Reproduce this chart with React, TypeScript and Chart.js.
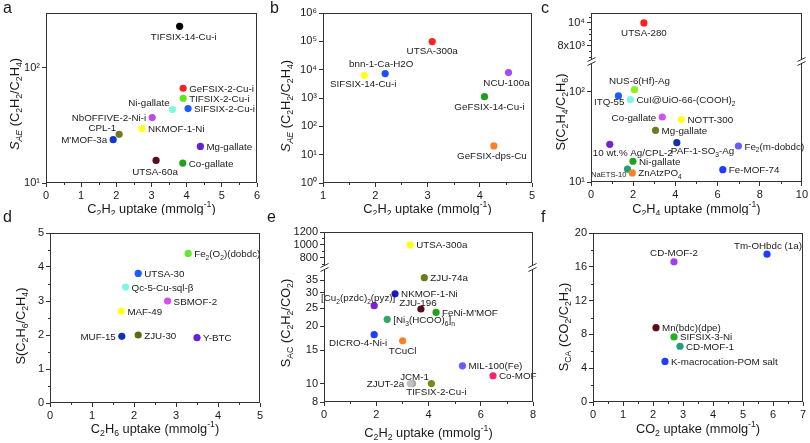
import React, { useEffect, useRef } from "react";
import { Chart, registerables } from "chart.js";

Chart.register(...registerables);

const FONT = "Arial, 'Liberation Sans', Helvetica, sans-serif";
const TXT = "#1a1a1a";
const LINE = "#333333";
const LABEL_SIZE = 9.8;
const TITLE_SIZE = 12.8;

type Place = [number, number, "l" | "r" | "c", number?];
const R: Place = [6, 0, "l"];
const L: Place = [-6, 0, "r"];

// ---------------- Panel a ----------------
const aNames = ["TIFSIX-14-Cu-i", "GeFSIX-2-Cu-i", "TIFSIX-2-Cu-i", "Ni-gallate", "SIFSIX-2-Cu-i", "NbOFFIVE-2-Ni-i", "NKMOF-1-Ni", "CPL-1", "M'MOF-3a", "Mg-gallate", "UTSA-60a", "Co-gallate"];
const aUptake = [3.8, 3.9, 3.9, 3.6, 4.04, 3.02, 2.73, 2.08, 1.91, 4.39, 3.13, 3.89];
const aSel = [230, 66.6, 54.5, 43.5, 44.3, 37, 29.7, 26.5, 23.8, 20.8, 15.7, 14.9];
const aColors = ["#000000", "#ff1f1f", "#5ee619", "#80f5e0", "#1f5cff", "#b94ce8", "#ffff1a", "#6b7d1f", "#1438c8", "#6a1fd6", "#5a0d1a", "#1fa31f"];
const aPlace: Place[] = [[4, 10, "c"], R, R, [-3, -7, "r"], R, L, R, [-3, -7, "r"], L, R, [-1, 11, "c"], R];
const aXTicks = [0, 1, 2, 3, 4, 5, 6];
const aYTicks = [10, 100];
const aYTickLabels = ["10¹", "10²"];

// ---------------- Panel b ----------------
const bNames = ["UTSA-300a", "bnn-1-Ca-H2O", "SIFSIX-14-Cu-i", "NCU-100a", "GeFSIX-14-Cu-i", "GeFSIX-dps-Cu"];
const bUptake = [3.09, 2.19, 1.79, 4.55, 4.09, 4.27];
const bSel = [98000, 7250, 6320, 7900, 1110, 20.4];
const bColors = ["#ff1f1f", "#1f4dff", "#ffff1a", "#a64df0", "#1f9e1f", "#ff7f27"];
const bPlace: Place[] = [[0, 9, "c"], [-4, -10, "c"], [-1, 8, "c"], [-2, 10, "c"], [5, 10, "c"], [-2, 10, "c"]];
const bXTicks = [1, 2, 3, 4, 5];
const bYTicks = [1, 10, 100, 1000, 10000, 100000, 1000000];
const bYTickLabels = ["10⁰", "10¹", "10²", "10³", "10⁴", "10⁵", "10⁶"];

// ---------------- Panel c ----------------
const cTopNames = ["UTSA-280"];
const cTopUptake = [2.51];
const cTopSel = [10000];
const cTopColors = ["#ff1f1f"];
const cTopPlace: Place[] = [[0, 10, "c"]];
const cNames = ["NUS-6(Hf)-Ag", "ITQ-55", "CuI@UiO-66-(COOH)_{2}", "Co-gallate", "NOTT-300", "Mg-gallate", "10 wt.% Ag/CPL-2", "PAF-1-SO_{3}-Ag", "Fe_{2}(m-dobdc)", "Ni-gallate", "NaETS-10", "ZnAtzPO_{4}", "Fe-MOF-74"];
const cUptake = [2.06, 1.3, 1.87, 3.38, 4.29, 3.06, 0.89, 4.07, 6.99, 1.99, 1.73, 1.96, 6.25];
const cSel = [106, 90.3, 82.2, 52.7, 49.3, 37.5, 26.2, 27.3, 25.1, 17.0, 13.9, 12.6, 13.7];
const cColors = ["#8cf21f", "#1f5cff", "#80f5e6", "#cc55f0", "#ffff1a", "#6b7d1f", "#7a1fd6", "#1430a8", "#6a5cff", "#1fa31f", "#1fa078", "#ff7f27", "#1f3cff"];
const cPlace: Place[] = [[5, -9, "c"], [6, 6, "r"], R, L, R, R, [-17, 8, "l"], [-6, 8, "l"], R, R, [-1, 5, "r", 7.6], R, R];
const cXTicks = [0, 2, 4, 6, 8, 10];
const cTopTicks = [8000, 10000];
const cTopTickLabels = ["8x10³", "10⁴"];
const cBotTicks = [10, 100];
const cBotTickLabels = ["10¹", "10²"];

// ---------------- Panel d ----------------
const dNames = ["Fe_{2}(O_{2})(dobdc)", "UTSA-30", "Qc-5-Cu-sql-β", "SBMOF-2", "MAF-49", "MUF-15", "ZJU-30", "Y-BTC"];
const dUptake = [3.29, 2.1, 1.8, 2.8, 1.7, 1.71, 2.1, 3.5];
const dSel = [4.4, 3.81, 3.41, 3.0, 2.7, 1.96, 2.0, 1.92];
const dColors = ["#66e633", "#1f5cff", "#80f5e6", "#d94cf0", "#ffff1a", "#1430b8", "#5c6b0f", "#6a1fd6"];
const dPlace: Place[] = [R, R, R, R, R, L, R, R];
const dXTicks = [0, 1, 2, 3, 4, 5];
const dYTicks = [0, 1, 2, 3, 4, 5];

// ---------------- Panel e ----------------
const eTopNames = ["UTSA-300a"];
const eTopUptake = [3.3];
const eTopSel = [1000];
const eTopColors = ["#ffff1a"];
const eTopPlace: Place[] = [R];
const eNames = ["ZJU-74a", "NKMOF-1-Ni", "[Cu_{2}(pzdc)_{2}(pyz)]", "ZJU-196", "FeNi-M'MOF", "[Ni_{3}(HCOO)_{6}]_{n}", "DICRO-4-Ni-i", "TCuCl", "MIL-100(Fe)", "Co-MOF", "JCM-1", "ZJUT-2a", "TIFSIX-2-Cu-i"];
const eUptake = [3.84, 2.72, 1.92, 3.71, 4.29, 2.42, 1.92, 3.01, 5.3, 6.47, 3.39, 3.3, 4.11];
const eSel = [36.1, 29.7, 25.7, 24.7, 23.7, 21.8, 18.1, 16.8, 12.4, 11.0, 10, 10, 10];
const eColors = ["#6b7d1f", "#1a1acc", "#7a1fd6", "#5a0d1a", "#1fa31f", "#2eaa66", "#1f3cff", "#ff7f27", "#6a5cff", "#ff1f6b", "#a6a6a6", "#c0c0c0", "#7a8a14"];
const ePlace: Place[] = [R, R, [-16, -8, "c"], [-3, -7, "c"], R, R, [-16, 8, "c"], [0, 10, "c"], R, R, [2, -7, "c"], L, [5, 8, "c"]];
const eXTicks = [0, 2, 4, 6, 8];
const eTopTicks = [800, 1000, 1200];
const eBotTicks = [8, 10, 15, 20, 25, 30, 35];

// ---------------- Panel f ----------------
const fNames = ["Tm-OHbdc (1a)", "CD-MOF-2", "Mn(bdc)(dpe)", "SIFSIX-3-Ni", "CD-MOF-1", "K-macrocation-POM salt"];
const fUptake = [5.8, 2.7, 2.1, 2.7, 2.9, 2.4];
const fSel = [17.5, 16.6, 8.8, 7.7, 6.6, 4.8];
const fColors = ["#1f3cff", "#9c3ff0", "#5a0d1a", "#1fb31f", "#1fa078", "#1f3cff"];
const fPlace: Place[] = [[1, -9, "c"], [0, -9, "c"], R, R, R, R];
const fXTicks = [0, 1, 2, 3, 4, 5, 6, 7];
const fYTicks = [0, 4, 8, 12, 16, 20];

// ---------------- rich text ----------------
type Seg = { t: string; sub: boolean; sup: boolean; it: boolean };
function parseRich(s: string, st = { sub: false, sup: false, it: false }, out: Seg[] = []): Seg[] {
  let i = 0;
  let buf = "";
  const flush = () => {
    if (buf) {
      out.push({ t: buf, ...st });
      buf = "";
    }
  };
  while (i < s.length) {
    const c = s[i];
    if ((c === "_" || c === "^" || c === "~") && s[i + 1] === "{") {
      flush();
      let depth = 0;
      let j = i + 1;
      for (; j < s.length; j++) {
        if (s[j] === "{") depth++;
        else if (s[j] === "}") {
          depth--;
          if (depth === 0) break;
        }
      }
      const ns = { ...st };
      if (c === "_") ns.sub = true;
      else if (c === "^") ns.sup = true;
      else ns.it = true;
      parseRich(s.slice(i + 2, j), ns, out);
      i = j + 1;
    } else {
      buf += c;
      i++;
    }
  }
  flush();
  return out;
}
function segFont(seg: Seg, size: number) {
  const fs = seg.sub || seg.sup ? size * 0.68 : size;
  return `${seg.it ? "italic " : ""}${fs}px ${FONT}`;
}
function drawRich(ctx: CanvasRenderingContext2D, text: string, x: number, y: number, size: number, align: "l" | "r" | "c") {
  const segs = parseRich(text);
  let w = 0;
  for (const s of segs) {
    ctx.font = segFont(s, size);
    w += ctx.measureText(s.t).width;
  }
  let cx = align === "l" ? x : align === "r" ? x - w : x - w / 2;
  const base = y + size * 0.36;
  ctx.textAlign = "left";
  ctx.textBaseline = "alphabetic";
  ctx.fillStyle = TXT;
  for (const s of segs) {
    ctx.font = segFont(s, size);
    const dy = s.sub ? size * 0.28 : s.sup ? -size * 0.42 : 0;
    ctx.fillText(s.t, cx, base + dy);
    cx += ctx.measureText(s.t).width;
  }
}

// ---------------- panel config ----------------
type YAxisCfg = { id: string; type: "linear" | "logarithmic"; min: number; max: number; ticks: number[]; labels?: string[]; minor?: number; stackWeight?: number };
type Series = { axis: string; names: string[]; xs: number[]; ys: number[]; colors: string[]; place: Place[] };
type PanelCfg = {
  letter: string;
  letterPos: [number, number];
  box: [number, number, number, number];
  plot: [number, number, number, number];
  x: { min: number; max: number; ticks: number[]; minor: number };
  ys: YAxisCfg[];
  series: Series[];
  xTitle: string;
  yTitle: string;
  xTitleY: number;
  yTitlePos: [number, number];
};

const panels: PanelCfg[] = [
  {
    letter: "a", letterPos: [3, 0], box: [0, 0, 270, 215], plot: [46, 13, 257, 183],
    x: { min: 0, max: 6, ticks: aXTicks, minor: 0.5 },
    ys: [{ id: "y", type: "logarithmic", min: 10, max: 300, ticks: aYTicks, labels: aYTickLabels }],
    series: [{ axis: "y", names: aNames, xs: aUptake, ys: aSel, colors: aColors, place: aPlace }],
    xTitle: "C_{2}H_{2} uptake (mmolg^{-1})", yTitle: "~{S_{AE}} (C_{2}H_{2}/C_{2}H_{4})", xTitleY: 208, yTitlePos: [14, 104],
  },
  {
    letter: "b", letterPos: [270, 0], box: [270, 0, 270, 215], plot: [323, 13, 532, 183],
    x: { min: 1, max: 5, ticks: bXTicks, minor: 0.5 },
    ys: [{ id: "y", type: "logarithmic", min: 1, max: 1000000, ticks: bYTicks, labels: bYTickLabels }],
    series: [{ axis: "y", names: bNames, xs: bUptake, ys: bSel, colors: bColors, place: bPlace }],
    xTitle: "C_{2}H_{2} uptake (mmolg^{-1})", yTitle: "~{S_{AE}} (C_{2}H_{2}/C_{2}H_{4})", xTitleY: 208, yTitlePos: [285, 106],
  },
  {
    letter: "c", letterPos: [541, 0], box: [540, 0, 270, 215], plot: [591, 13, 803, 182],
    x: { min: 0, max: 10, ticks: cXTicks, minor: 1 },
    ys: [
      { id: "yTop", type: "linear", min: 6570, max: 10870, ticks: cTopTicks, labels: cTopTickLabels, minor: 500, stackWeight: 49 },
      { id: "y", type: "logarithmic", min: 10, max: 215, ticks: cBotTicks, labels: cBotTickLabels, stackWeight: 120 },
    ],
    series: [
      { axis: "yTop", names: cTopNames, xs: cTopUptake, ys: cTopSel, colors: cTopColors, place: cTopPlace },
      { axis: "y", names: cNames, xs: cUptake, ys: cSel, colors: cColors, place: cPlace },
    ],
    xTitle: "C_{2}H_{4} uptake (mmolg^{-1})", yTitle: "S(C_{2}H_{4}/C_{2}H_{6})", xTitleY: 208, yTitlePos: [560, 112],
  },
  {
    letter: "d", letterPos: [3, 209], box: [0, 215, 270, 228], plot: [50, 233, 260, 403],
    x: { min: 0, max: 5, ticks: dXTicks, minor: 0.5 },
    ys: [{ id: "y", type: "linear", min: 0, max: 5, ticks: dYTicks, minor: 0.5 }],
    series: [{ axis: "y", names: dNames, xs: dUptake, ys: dSel, colors: dColors, place: dPlace }],
    xTitle: "C_{2}H_{6} uptake (mmolg^{-1})", yTitle: "S(C_{2}H_{6}/C_{2}H_{4})", xTitleY: 428, yTitlePos: [20, 326],
  },
  {
    letter: "e", letterPos: [267, 209], box: [270, 215, 270, 228], plot: [324, 232, 533, 402],
    x: { min: 0, max: 8, ticks: eXTicks, minor: 1 },
    ys: [
      { id: "yTop", type: "linear", min: 640, max: 1200, ticks: eTopTicks, minor: 100, stackWeight: 36 },
      { id: "y", type: "logarithmic", min: 8, max: 40.6, ticks: eBotTicks, stackWeight: 134 },
    ],
    series: [
      { axis: "yTop", names: eTopNames, xs: eTopUptake, ys: eTopSel, colors: eTopColors, place: eTopPlace },
      { axis: "y", names: eNames, xs: eUptake, ys: eSel, colors: eColors, place: ePlace },
    ],
    xTitle: "C_{2}H_{2} uptake (mmolg^{-1})", yTitle: "S_{AC} (C_{2}H_{2}/CO_{2})", xTitleY: 432, yTitlePos: [285, 323],
  },
  {
    letter: "f", letterPos: [541, 209], box: [540, 215, 270, 228], plot: [593, 233, 803, 402],
    x: { min: 0, max: 7, ticks: fXTicks, minor: 0.5 },
    ys: [{ id: "y", type: "linear", min: 0, max: 20, ticks: fYTicks, minor: 2 }],
    series: [{ axis: "y", names: fNames, xs: fUptake, ys: fSel, colors: fColors, place: fPlace }],
    xTitle: "CO_{2} uptake (mmolg^{-1})", yTitle: "S_{CA} (CO_{2}/C_{2}H_{2})", xTitleY: 428, yTitlePos: [563, 327],
  },
];

const tickOpts = (labels?: string[]) => ({
  font: { size: 11, family: FONT },
  color: TXT,
  padding: 2,
  autoSkip: false,
  maxRotation: 0,
  minRotation: 0,
  callback: (v: any, i: number) => (labels ? labels[i] : String(v)),
});
const gridOpts = { display: true, drawOnChartArea: false, drawTicks: true, tickLength: 4, color: LINE, tickColor: LINE, lineWidth: 1 };

function PanelChart({ cfg }: { cfg: PanelCfg }) {
  const ref = useRef<HTMLCanvasElement>(null);
  useEffect(() => {
    const canvas = ref.current;
    if (!canvas) return;
    const [bx, by, bw, bh] = cfg.box;
    const [pl, pt, pr, pb] = cfg.plot;
    const yWidth = pl - bx;
    const padTop = pt - by;
    const padRight = bx + bw - pr;
    const xHeight = by + bh - pb;
    const stacked = cfg.ys.length > 1;

    const scales: any = {
      x: {
        type: "linear",
        position: "bottom",
        min: cfg.x.min,
        max: cfg.x.max,
        afterBuildTicks: (s: any) => {
          s.ticks = cfg.x.ticks.map((v) => ({ value: v }));
        },
        afterFit: (s: any) => {
          s.height = xHeight;
        },
        ticks: tickOpts(),
        grid: gridOpts,
        border: { display: false },
      },
    };
    const ordered = [...cfg.ys].reverse();
    ordered.forEach((ya, idx) => {
      const sc: any = {
        type: ya.type,
        position: "left",
        min: ya.min,
        max: ya.max,
        afterBuildTicks: (s: any) => {
          s.ticks = ya.ticks.map((v) => ({ value: v }));
        },
        afterFit: (s: any) => {
          s.width = yWidth;
        },
        ticks: tickOpts(ya.labels),
        grid: gridOpts,
        border: { display: false },
      };
      if (stacked) {
        sc.stack = "ystack";
        sc.stackWeight = ya.stackWeight;
        sc.weight = idx;
        sc.offset = false;
      }
      scales[ya.id] = sc;
    });

    const datasets = cfg.series.map((s) => ({
      label: s.axis,
      data: s.xs.map((x, i) => ({ x, y: s.ys[i] })),
      yAxisID: s.axis,
      xAxisID: "x",
      pointRadius: 3.6,
      pointHoverRadius: 3.6,
      pointBackgroundColor: s.colors,
      pointBorderWidth: 0,
      showLine: false,
    }));

    const decor = {
      id: "decor",
      afterDatasetsDraw(chart: any) {
        const ctx: CanvasRenderingContext2D = chart.ctx;
        ctx.save();
        chart.data.datasets.forEach((_: any, di: number) => {
          const meta = chart.getDatasetMeta(di);
          const s = cfg.series[di];
          meta.data.forEach((pt: any, i: number) => {
            const [dx, dy, al, sz] = s.place[i];
            drawRich(ctx, s.names[i], pt.x + dx, pt.y + dy, sz || LABEL_SIZE, al);
          });
        });
        ctx.restore();
      },
      afterDraw(chart: any) {
        const ctx: CanvasRenderingContext2D = chart.ctx;
        const ca = chart.chartArea;
        ctx.save();
        ctx.strokeStyle = LINE;
        ctx.lineWidth = 1;
        const l = Math.round(ca.left) + 0.5;
        const t = Math.round(ca.top) + 0.5;
        const r = Math.round(ca.right) - 0.5;
        const b = Math.round(ca.bottom) - 0.5;
        ctx.strokeRect(l, t, r - l, b - t);
        ctx.beginPath();
        const xs = chart.scales.x;
        for (let v = cfg.x.min; v <= cfg.x.max + 1e-9; v += cfg.x.minor) {
          if (cfg.x.ticks.some((m) => Math.abs(m - v) < 1e-9)) continue;
          const px = Math.round(xs.getPixelForValue(v)) + 0.5;
          ctx.moveTo(px, b);
          ctx.lineTo(px, b + 2.5);
        }
        cfg.ys.forEach((ya) => {
          if (!ya.minor) return;
          const sc = chart.scales[ya.id];
          const start = Math.ceil(ya.min / ya.minor) * ya.minor;
          for (let v = start; v <= ya.max + 1e-9; v += ya.minor) {
            if (ya.ticks.some((m) => Math.abs(m - v) < 1e-9)) continue;
            const py = Math.round(sc.getPixelForValue(v)) + 0.5;
            ctx.moveTo(l, py);
            ctx.lineTo(l - 2.5, py);
          }
        });
        ctx.stroke();
        if (stacked) {
          const yb = chart.scales[cfg.ys[0].id].bottom;
          [l, r].forEach((x0) => {
            ctx.fillStyle = "#ffffff";
            ctx.fillRect(x0 - 1, yb - 2, 2, 4);
            ctx.beginPath();
            ctx.moveTo(x0 - 4, yb - 0.5);
            ctx.lineTo(x0 + 4, yb - 4.5);
            ctx.moveTo(x0 - 4, yb + 3.5);
            ctx.lineTo(x0 + 4, yb - 0.5);
            ctx.stroke();
          });
        }
        drawRich(ctx, cfg.xTitle, (ca.left + ca.right) / 2, cfg.xTitleY - by, TITLE_SIZE, "c");
        ctx.translate(cfg.yTitlePos[0] - bx, cfg.yTitlePos[1] - by);
        ctx.rotate(-Math.PI / 2);
        drawRich(ctx, cfg.yTitle, 0, 0, TITLE_SIZE, "c");
        ctx.restore();
      },
    };

    const chart = new Chart(canvas, {
      type: "scatter",
      data: { datasets } as any,
      options: {
        responsive: false,
        animation: false,
        devicePixelRatio: 1,
        events: [],
        layout: { padding: { top: padTop, right: padRight, left: 0, bottom: 0 } },
        plugins: { legend: { display: false }, tooltip: { enabled: false }, title: { display: false } },
        scales,
      } as any,
      plugins: [decor],
    });
    return () => chart.destroy();
  }, [cfg]);
  const [bx, by, bw, bh] = cfg.box;
  return (
    <canvas
      ref={ref}
      width={bw}
      height={bh}
      style={{ position: "absolute", left: bx, top: by, width: bw, height: bh, display: "block" }}
    />
  );
}

export default function App() {
  return (
    <div style={{ position: "absolute", left: 0, top: 0, width: 810, height: 443, background: "#ffffff", overflow: "hidden" }}>
      {panels.map((p) => (
        <PanelChart key={p.letter} cfg={p} />
      ))}
      {panels.map((p) => (
        <div
          key={"l" + p.letter}
          style={{ position: "absolute", left: p.letterPos[0], top: p.letterPos[1], font: `16px ${FONT}`, lineHeight: "16px", color: TXT, zIndex: 2 }}
        >
          {p.letter}
        </div>
      ))}
    </div>
  );
}
